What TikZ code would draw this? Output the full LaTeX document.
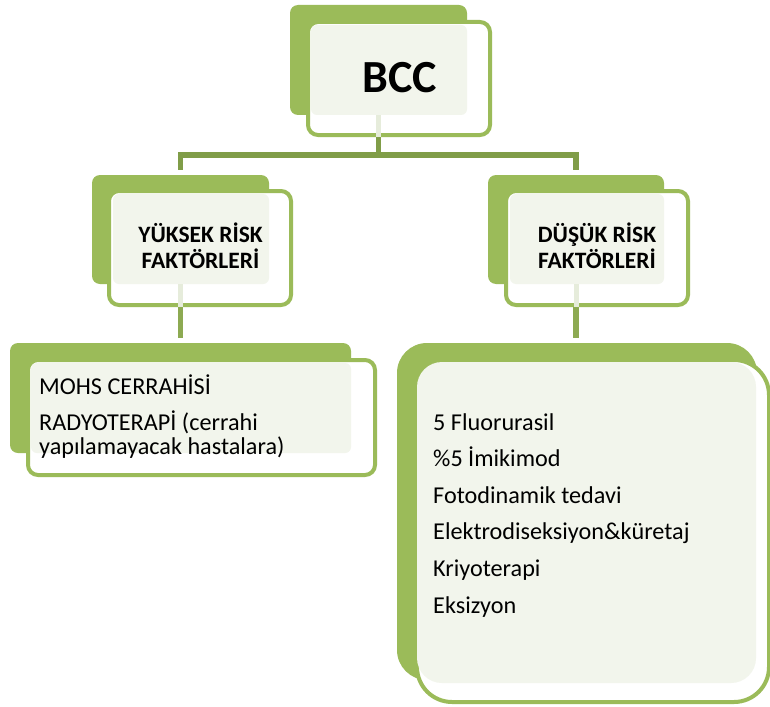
\documentclass[tikz,border=0pt]{standalone}
\usepackage{fontspec}
\setmainfont{Carlito}
\definecolor{accgreen}{HTML}{9BBB59}
\definecolor{bargreen}{HTML}{809D48}
\definecolor{lowgreen}{HTML}{8DAA52}
\definecolor{tintc}{HTML}{F2F5EC}
\definecolor{faintc}{HTML}{E6ECDB}
\tikzset{
  backbox/.style={fill=accgreen, rounded corners=8pt, inner sep=0pt, draw=none},
  framebox/.style={draw=accgreen, line width=4pt, rounded corners=10pt, inner sep=0pt},
  tintbox/.style={fill=tintc, rounded corners=6pt, inner sep=0pt},
  upconn/.style={draw=bargreen, line width=5.5pt},
  lowconn/.style={draw=lowgreen, line width=5.5pt, shorten >=5pt},
  barline/.style={draw=bargreen, line width=5.5pt},
  faintline/.style={draw=faintc, line width=5pt},
  hdr/.style={align=center, inner sep=0pt, font=\bfseries\fontsize{23.5}{26}\selectfont},
  bodytxt/.style={align=left, inner sep=0pt, font=\fontsize{24.2}{23.5}\selectfont},
  listtxt/.style={align=left, inner sep=0pt, font=\fontsize{24.2}{36.6}\selectfont}
}
\begin{document}
\begin{tikzpicture}[x=1pt,y=-1pt]
\useasboundingbox (0,0) rectangle (770,706);
\coordinate (bar) at (378.5,155);
% green back boxes
\node[backbox, minimum width=177, minimum height=110] (bccback) at (378.5,60) {};
\node[backbox, minimum width=177, minimum height=109] (yukback) at (180.5,229.5) {};
\node[backbox, minimum width=176, minimum height=109] (dusback) at (576,229.5) {};
\node[backbox, minimum width=341, minimum height=110] (mohsback) at (180.5,398) {};
\node[backbox, rounded corners=30pt, minimum width=360, minimum height=337] (trtback) at (577,511.5) {};
% connectors
\draw[upconn] (bccback.south) -- (bccback.south |- bar);
\draw[barline, line cap=rect] (yukback.north |- bar) -- (dusback.north |- bar);
\draw[upconn, shorten >=5pt] (yukback.north |- bar) -- (yukback.north);
\draw[upconn, shorten >=5pt] (dusback.north |- bar) -- (dusback.north);
\draw[lowconn] (yukback.south) -- (mohsback.north -| yukback.south);
\draw[lowconn] (dusback.south) -- (trtback.north -| dusback.south);
% frames
\node[framebox, fill=white, minimum width=182, minimum height=113] (bccframe) at (399,78.5) {};
\node[framebox, fill=white, minimum width=182, minimum height=114] (yukframe) at (200,248) {};
\node[framebox, fill=white, minimum width=182, minimum height=114] (dusframe) at (597,248) {};
\node[framebox, fill=white, minimum width=347, minimum height=115] (mohsframe) at (201.5,417.5) {};
\node[framebox, fill=white, rounded corners=35pt, minimum width=352, minimum height=342] (trtframe) at (593,531) {};
% tinted text areas
\node[tintbox, minimum width=156, minimum height=90] (bcctint) at (389,70) {};
\node[tintbox, minimum width=156, minimum height=90] (yuktint) at (191,239) {};
\node[tintbox, minimum width=154, minimum height=90] (dustint) at (587,239) {};
\node[tintbox, minimum width=320, minimum height=90] (mohstint) at (191,408) {};
\node[tintbox, rounded corners=25pt, minimum width=339, minimum height=321] (trttint) at (586.5,522.5) {};
% faint connector parts inside frames
\draw[faintline] (bcctint.south -| bccback.south) -- (bccframe.south -| bccback.south);
\draw[faintline] (yuktint.south -| yukback.south) -- (yukframe.south -| yukback.south);
\draw[faintline] (dustint.south -| dusback.south) -- (dusframe.south -| dusback.south);
% texts (base anchor = baseline of the last line)
\node[inner sep=0pt, anchor=base, font=\bfseries\fontsize{46}{50}\selectfont] (bcctext) at (399.5,93) {BCC};
\node[hdr, anchor=base] (yuktext) at (200.5,268) {YÜKSEK RİSK\\FAKTÖRLERİ};
\node[hdr, anchor=base] (dustext) at (597,268) {DÜŞÜK RİSK\\FAKTÖRLERİ};
\node[bodytxt, anchor=base west] (mohstext) at (39,454) {MOHS CERRAHİSİ\\[12.5pt]RADYOTERAPİ (cerrahi\\yapılamayacak hastalara)};
\node[listtxt, anchor=base west] (trttext) at (433,613) {5 Fluorurasil\\\%5 İmikimod\\Fotodinamik tedavi\\Elektrodiseksiyon\&küretaj\\Kriyoterapi\\Eksizyon};
\end{tikzpicture}
\end{document}
